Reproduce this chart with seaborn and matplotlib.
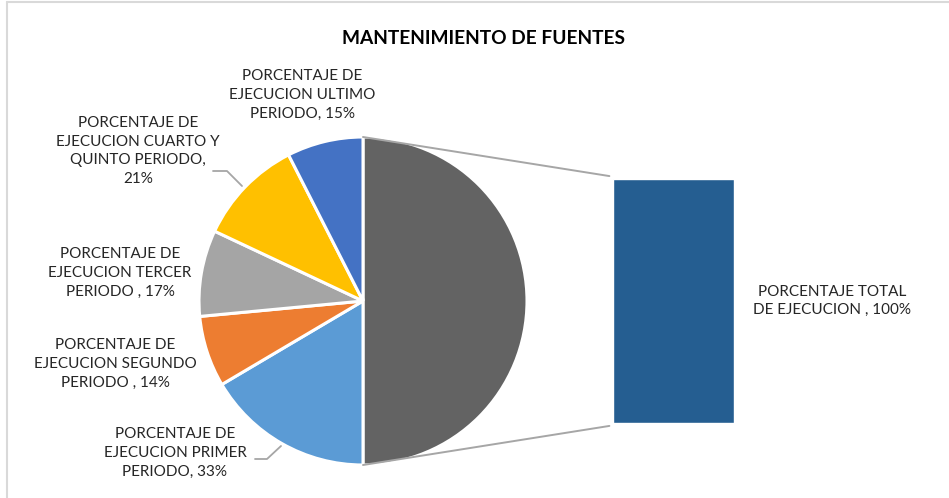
import matplotlib
matplotlib.use("Agg")
import matplotlib.pyplot as plt
import seaborn as sns
from matplotlib.patches import ConnectionPatch
from matplotlib.lines import Line2D

# ---------------- data ----------------
title = "MANTENIMIENTO DE FUENTES"
pie_categories = [
    "PORCENTAJE TOTAL DE EJECUCION",
    "PORCENTAJE DE EJECUCION PRIMER PERIODO",
    "PORCENTAJE DE EJECUCION SEGUNDO PERIODO",
    "PORCENTAJE DE EJECUCION TERCER PERIODO",
    "PORCENTAJE DE EJECUCION CUARTO Y QUINTO PERIODO",
    "PORCENTAJE DE EJECUCION ULTIMO PERIODO",
]
pie_values = [100, 33, 14, 17, 21, 15]
pie_colors = ["#636363", "#5B9BD5", "#ED7D31", "#A5A5A5", "#FFC000", "#4472C4"]
bar_categories = ["PORCENTAJE TOTAL DE EJECUCION"]
bar_values = [100]
bar_color = "#255E91"

label_texts = [
    "PORCENTAJE DE\nEJECUCION PRIMER\nPERIODO, 33%",
    "PORCENTAJE DE\nEJECUCION SEGUNDO\nPERIODO , 14%",
    "PORCENTAJE DE\nEJECUCION TERCER\nPERIODO , 17%",
    "PORCENTAJE DE\nEJECUCION CUARTO Y\nQUINTO PERIODO,\n21%",
    "PORCENTAJE DE\nEJECUCION ULTIMO\nPERIODO, 15%",
]
bar_label_text = "PORCENTAJE TOTAL\nDE EJECUCION , 100%"

# ---------------- layout (pixels) ----------------
W, H = 949, 498
label_pos = [(175, 453), (115, 364), (120, 273), (138, 151), (302, 95)]
bar_label_pos = (832, 301)
leaders = [
    [(255, 459), (267, 459), (281, 446)],
    [(213, 171), (227, 171), (242, 186)],
]
pie_cx, pie_cy, pie_r = 363, 301, 164
bar_x0, bar_x1, bar_y0, bar_y1 = 613, 734, 179, 423


def fx(x):
    return x / W


def fy(y):
    return 1 - y / H


sns.set_theme(style="white")
plt.rcParams["font.family"] = ["Lato", "DejaVu Sans"]

fig = plt.figure(figsize=(W / 100, H / 100), dpi=100)
fig.patch.set_facecolor("white")

# frame
fig.add_artist(Line2D([fx(7), fx(949)], [fy(2.5), fy(2.5)], color="#D9D9D9", lw=1.5,
                      transform=fig.transFigure))
fig.add_artist(Line2D([fx(7), fx(7)], [fy(2.5), fy(498)], color="#D9D9D9", lw=1.5,
                      transform=fig.transFigure))

# pie
pad = 1.05
half = pie_r * pad
axp = fig.add_axes([fx(pie_cx - half), fy(pie_cy + half), 2 * half / W, 2 * half / H])
axp.pie(pie_values, colors=pie_colors, startangle=90, counterclock=False, radius=1,
        wedgeprops=dict(edgecolor="white", linewidth=2.2))
axp.set_xlim(-pad, pad)
axp.set_ylim(-pad, pad)
axp.set_aspect("equal")
axp.axis("off")

# bar
axb = fig.add_axes([fx(bar_x0), fy(bar_y1), (bar_x1 - bar_x0) / W, (bar_y1 - bar_y0) / H])
sns.barplot(x=bar_categories, y=bar_values, color=bar_color, saturation=1, width=1,
            ax=axb)
axb.set_xlim(-0.5, 0.5)
axb.set_ylim(0, max(bar_values))
axb.axis("off")

# connectors
for ya, yb in [(1, max(bar_values)), (-1, 0)]:
    con = ConnectionPatch(xyA=(0, ya), coordsA=axp.transData,
                          xyB=(-0.53, yb + (1.2 if yb else -1.2)), coordsB=axb.transData,
                          color="#A6A6A6", lw=1.4)
    fig.add_artist(con)

# labels
txt_kw = dict(ha="center", va="center", fontsize=11, color="#262626", linespacing=1.42)
for t, (x, y) in zip(label_texts, label_pos):
    fig.text(fx(x), fy(y), t, **txt_kw)
fig.text(fx(bar_label_pos[0]), fy(bar_label_pos[1]), bar_label_text, **txt_kw)

for pts in leaders:
    fig.add_artist(Line2D([fx(p[0]) for p in pts], [fy(p[1]) for p in pts],
                          color="#A6A6A6", lw=1.3, transform=fig.transFigure))

fig.text(fx(484), fy(38), title, ha="center", va="center", fontsize=13.8,
         fontweight="bold", color="#000000")

fig.savefig("out.png", dpi=100, facecolor="white")
